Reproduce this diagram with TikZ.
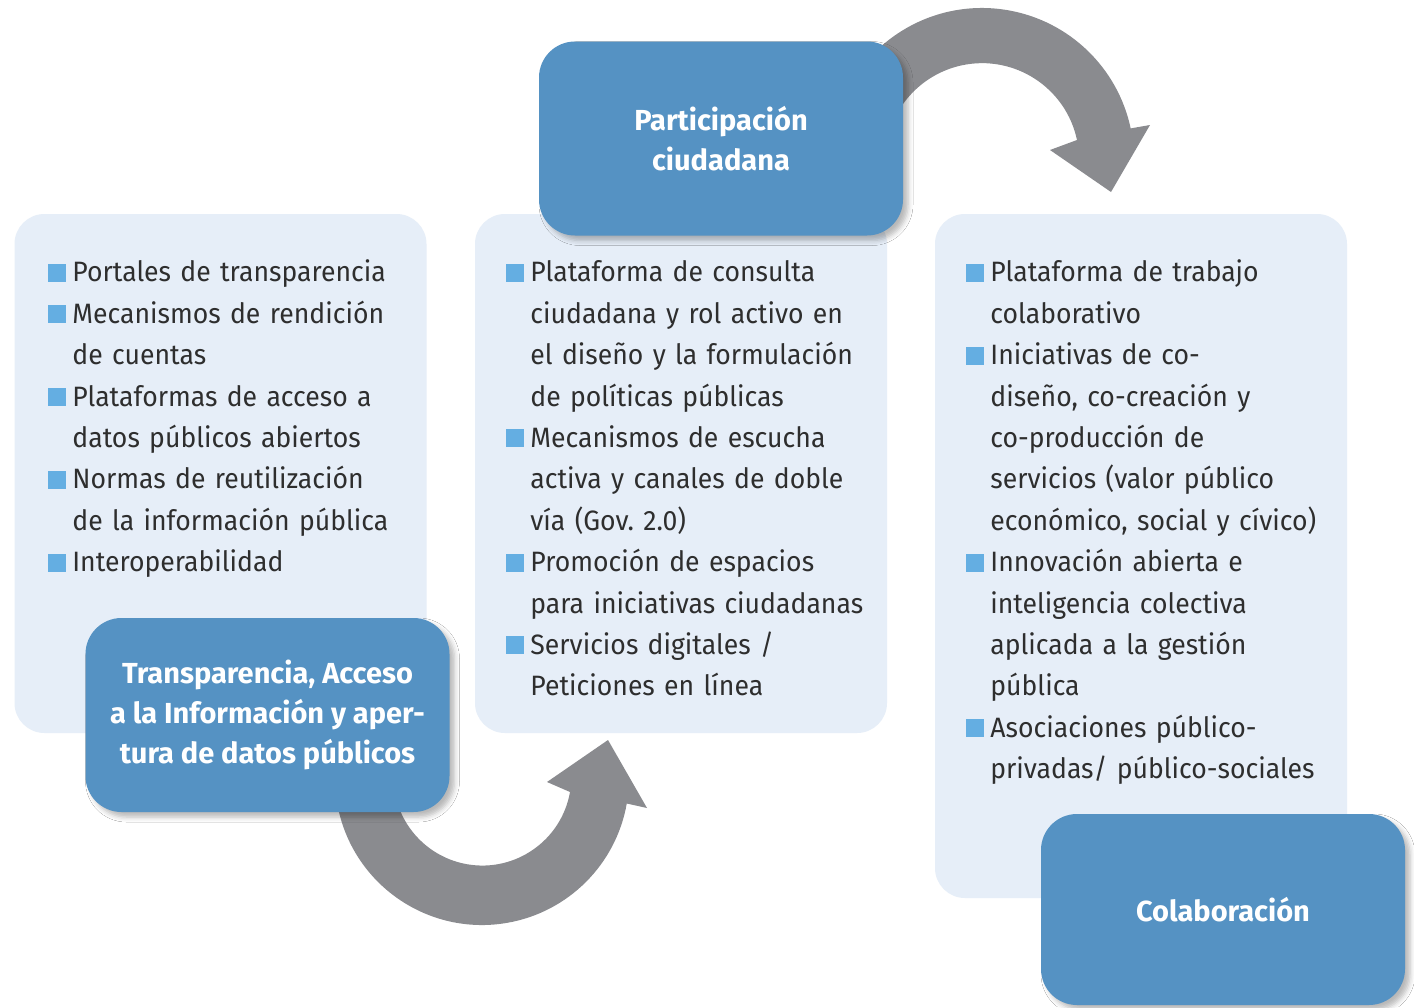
\documentclass[tikz,border=0pt]{standalone}
\usepackage{fontspec}
\setmainfont{Fira Sans}
\newfontfamily\listfont{Fira Sans}[FakeStretch=0.95, WordSpace=0.8]
\usetikzlibrary{shadows.blur}
\definecolor{boxblue}{HTML}{5592C3}
\definecolor{paleblue}{HTML}{E6EEF8}
\definecolor{bulletblue}{HTML}{64AEE2}
\definecolor{arrowgray}{HTML}{8A8B8F}
\definecolor{textgray}{HTML}{2E2E2E}
\frenchspacing
% list item with a square bullet and hanging indent
\newcommand{\itm}{\par\noindent\hangindent=12pt\hangafter=1\makebox[12pt][l]{\textcolor{bulletblue}{\rule{9pt}{9pt}}}\strut}
\begin{document}
\begin{tikzpicture}[x=0.5pt,y=-0.5pt] % pixel grid of the original
\tikzstyle{lightbox}=[fill=paleblue, rounded corners=15pt, inner sep=0pt, minimum width=206pt]
\tikzstyle{darkbox}=[fill=boxblue, rounded corners=18pt, inner sep=0pt, minimum width=182pt, minimum height=97pt,
  text=white, align=center, font=\fontsize{14.5pt}{20.2pt}\selectfont\bfseries,
  blur shadow={shadow xshift=2.5pt, shadow yshift=-2.5pt, shadow blur radius=2.5pt, shadow opacity=28}]
\tikzstyle{listtext}=[anchor=north west, inner sep=0pt, text width=200pt, text=textgray,
  font=\listfont\fontsize{14pt}{20.7pt}\selectfont]
\useasboundingbox (0,0) rectangle (1414,1007);
\fill [white] (0,0) rectangle (1414,1007);
% pale panels
\node [lightbox, minimum height=259.5pt] (panelA) at (220.5,473.5) {};
\node [lightbox, minimum height=259.5pt] (panelB) at (681,473.5) {};
\node [lightbox, minimum height=342pt] (panelC) at (1141,556) {};
% curved arrows
\fill [arrowgray] (982,160) ++(190:152) arc[start angle=190, end angle=348, radius=152]
  -- (1150,125) -- (1111,192) -- (1050,150) -- (1077,140) arc[start angle=348, end angle=190, radius=97] -- cycle;
\fill [arrowgray] (482,778) ++(170:147) arc[start angle=170, end angle=10, radius=147]
  -- (647,808) -- (608,740) -- (547,782) -- (570,792) arc[start angle=10, end angle=170, radius=89] -- cycle;
% headings
\node [darkbox] (trans) at (267.5,715) {Transparencia, Acceso\\a la Información y aper-\\tura de datos públicos};
\node [darkbox] (partic) at (721,138.5) {Participación\\ciudadana};
\node [darkbox, minimum height=95.5pt] (colab) at (1223,909.5) {Colaboración};
% lists
\node [listtext] (listA) at (48,240) {\itm Portales de transparencia
  \itm Mecanismos de rendición\newline de cuentas
  \itm Plataformas de acceso a\newline datos públicos abiertos
  \itm Normas de reutilización\newline de la información pública
  \itm Interoperabilidad\par};
\node [listtext] (listB) at (506,240) {\itm Plataforma de consulta\newline ciudadana y rol activo en\newline el diseño y la formulación\newline de políticas públicas
  \itm Mecanismos de escucha\newline activa y canales de doble\newline vía (Gov. 2.0)
  \itm Promoción de espacios\newline para iniciativas ciudadanas
  \itm Servicios digitales /\newline Peticiones en línea\par};
\node [listtext] (listC) at (966,240) {\itm Plataforma de trabajo\newline colaborativo
  \itm Iniciativas de co-\newline diseño, co-creación y\newline co-producción de\newline servicios (valor público\newline económico, social y cívico)
  \itm Innovación abierta e\newline inteligencia colectiva\newline aplicada a la gestión\newline pública
  \itm Asociaciones público-\newline privadas/ público-sociales\par};
\end{tikzpicture}
\end{document}
